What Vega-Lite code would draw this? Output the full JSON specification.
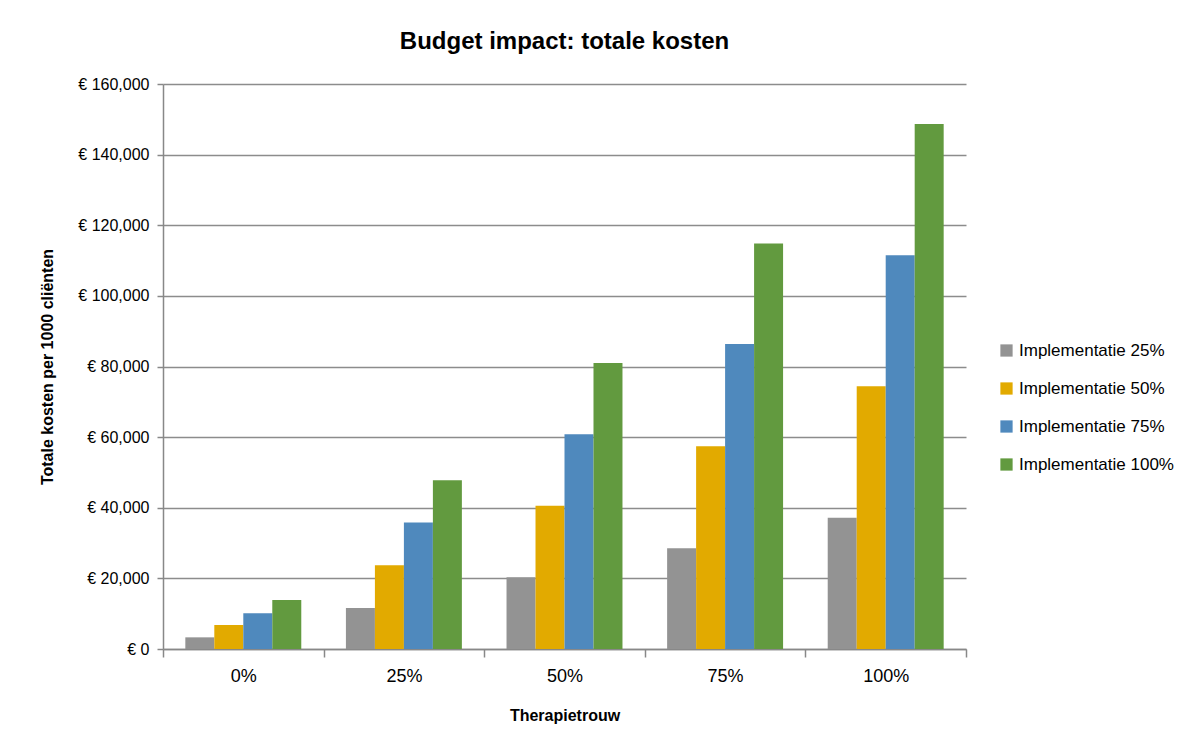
{
  "$schema": "https://vega.github.io/schema/vega-lite/v6.json",
  "width": 803,
  "height": 565,
  "autosize": {"type": "none"},
  "padding": {"left": 163, "top": 84, "right": 238, "bottom": 98},
  "background": "white",
  "title": {"text": "Budget impact: totale kosten", "font": "Liberation Sans", "fontSize": 24, "fontWeight": "bold", "color": "#000000", "offset": 22, "anchor": "middle"},
  "config": {"view": {"stroke": null}, "font": "Liberation Sans"},
  "data": {"values": [
    {"trouw": "0%", "impl": "Implementatie 25%", "kosten": 3300},
    {"trouw": "0%", "impl": "Implementatie 50%", "kosten": 6800},
    {"trouw": "0%", "impl": "Implementatie 75%", "kosten": 10100},
    {"trouw": "0%", "impl": "Implementatie 100%", "kosten": 13900},
    {"trouw": "25%", "impl": "Implementatie 25%", "kosten": 11600},
    {"trouw": "25%", "impl": "Implementatie 50%", "kosten": 23700},
    {"trouw": "25%", "impl": "Implementatie 75%", "kosten": 35800},
    {"trouw": "25%", "impl": "Implementatie 100%", "kosten": 47800},
    {"trouw": "50%", "impl": "Implementatie 25%", "kosten": 20300},
    {"trouw": "50%", "impl": "Implementatie 50%", "kosten": 40600},
    {"trouw": "50%", "impl": "Implementatie 75%", "kosten": 60800},
    {"trouw": "50%", "impl": "Implementatie 100%", "kosten": 81000},
    {"trouw": "75%", "impl": "Implementatie 25%", "kosten": 28500},
    {"trouw": "75%", "impl": "Implementatie 50%", "kosten": 57400},
    {"trouw": "75%", "impl": "Implementatie 75%", "kosten": 86400},
    {"trouw": "75%", "impl": "Implementatie 100%", "kosten": 114800},
    {"trouw": "100%", "impl": "Implementatie 25%", "kosten": 37200},
    {"trouw": "100%", "impl": "Implementatie 50%", "kosten": 74400},
    {"trouw": "100%", "impl": "Implementatie 75%", "kosten": 111500},
    {"trouw": "100%", "impl": "Implementatie 100%", "kosten": 148700}
  ]},
  "mark": {"type": "bar"},
  "encoding": {
    "x": {
      "field": "trouw", "type": "nominal",
      "sort": ["0%", "25%", "50%", "75%", "100%"],
      "scale": {"paddingInner": 0, "paddingOuter": 0},
      "axis": {
        "title": "Therapietrouw", "titleFontSize": 16, "titleFontWeight": "bold", "titleColor": "#000000", "titlePadding": 22,
        "labelAngle": 0, "labelFontSize": 18, "labelColor": "#000000", "labelPadding": 10,
        "tickBand": "extent", "tickSize": 8, "tickColor": "#888888", "domainColor": "#888888", "domainWidth": 1.5, "tickWidth": 1.5
      }
    },
    "xOffset": {
      "field": "impl", "type": "nominal",
      "sort": ["Implementatie 25%", "Implementatie 50%", "Implementatie 75%", "Implementatie 100%"],
      "scale": {"paddingInner": 0, "paddingOuter": 0.77}
    },
    "y": {
      "field": "kosten", "type": "quantitative",
      "scale": {"domain": [0, 160000], "nice": false},
      "axis": {
        "title": "Totale kosten per 1000 cliënten", "titleFontSize": 16, "titleFontWeight": "bold", "titleColor": "#000000", "titlePadding": 22,
        "values": [0, 20000, 40000, 60000, 80000, 100000, 120000, 140000, 160000],
        "labelExpr": "'€ ' + format(datum.value, ',')",
        "labelFontSize": 16, "labelColor": "#000000", "labelPadding": 8,
        "tickSize": 6, "tickColor": "#888888", "tickWidth": 1.5,
        "domainColor": "#888888", "domainWidth": 1.5,
        "grid": true, "gridColor": "#8c8c8c", "gridWidth": 1.5
      }
    },
    "color": {
      "field": "impl", "type": "nominal",
      "sort": ["Implementatie 25%", "Implementatie 50%", "Implementatie 75%", "Implementatie 100%"],
      "scale": {"range": ["#939393", "#E2AA00", "#4F89BD", "#629A3F"]},
      "legend": {
        "title": null, "orient": "none", "legendX": 835, "legendY": 258,
        "symbolType": "square", "symbolSize": 150, "symbolStrokeWidth": 0,
        "labelFontSize": 17, "labelColor": "#000000", "rowPadding": 20, "labelOffset": 4
      }
    }
  }
}
